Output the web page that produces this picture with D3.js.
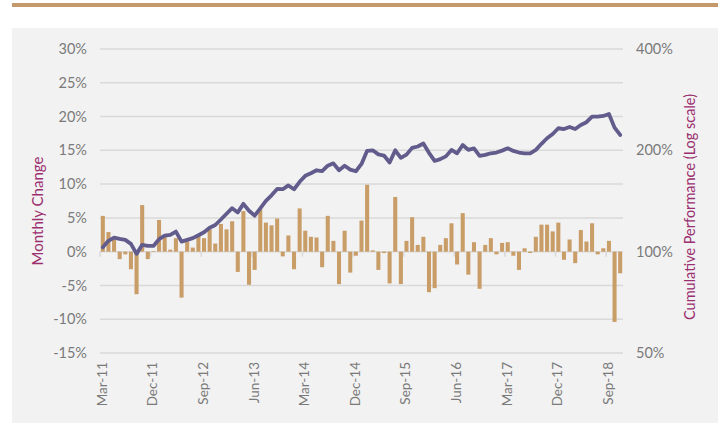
<!DOCTYPE html>
<html>
<head>
<meta charset="utf-8">
<script src="https://cdn.jsdelivr.net/npm/d3@7"></script>
<style>
  body { margin: 0; background: #ffffff; }
  text { font-family: Lato, "Open Sans", sans-serif; }
</style>
</head>
<body>
<div id="chart"></div>
<script>
// Monthly change (%) from Mar-11 to Nov-18
var monthlyChange = [
  5.3, 2.9, 1.8, -1.1, -0.4, -2.6, -6.3, 6.9, -1.1, 0.1,
  4.7, 2.2, 0.3, 2.0, -6.8, 1.5, 0.6, 2.5, 2.0, 3.3,
  1.2, 4.1, 3.3, 4.5, -3.0, 6.0, -4.9, -2.7, 6.3, 4.3,
  3.9, 4.9, -0.7, 2.4, -2.6, 6.4, 3.1, 2.2, 2.1, -2.3,
  5.3, 1.6, -4.8, 3.1, -3.1, -0.6, 4.6, 9.9, 0.2, -2.7,
  -0.2, -4.7, 8.1, -4.8, 1.6, 5.1, 1.0, 2.2, -6.0, -5.4,
  1.0, 2.0, 4.2, -1.9, 5.7, -3.4, 1.4, -5.5, 1.0, 2.0,
  -0.4, 1.3, 1.4, -0.6, -2.7, 0.5, -0.2, 2.2, 4.0, 4.0,
  3.0, 4.3, -1.2, 1.8, -1.7, 3.2, 1.5, 4.2, -0.4, 0.5,
  1.6, -10.4, -3.2
];

// Cumulative performance (%), log scale on the right axis
var cumulative = [
  103.1, 107.7, 110.1, 109.1, 108.4, 105.5, 98.5, 104.8, 104.0, 104.0,
  108.9, 111.6, 112.1, 114.7, 107.1, 108.4, 109.7, 111.9, 114.2, 117.8,
  120.0, 124.6, 129.6, 134.6, 130.8, 138.7, 132.3, 127.9, 134.5, 141.5,
  147.0, 153.5, 153.3, 157.3, 153.2, 161.3, 168.0, 171.0, 174.5, 173.5,
  180.0, 183.0, 174.5, 180.0, 175.3, 173.3, 182.2, 199.4, 200.0, 194.5,
  193.0, 184.0, 200.0, 190.0, 194.2, 203.4, 205.3, 209.6, 196.6, 186.0,
  188.3, 191.9, 200.6, 196.0, 207.5, 200.6, 202.8, 192.5, 193.8, 196.0,
  197.0, 199.6, 202.8, 199.2, 197.0, 196.0, 196.0, 200.6, 209.1, 217.2,
  223.6, 232.6, 231.4, 234.7, 231.4, 237.9, 242.4, 251.8, 251.8, 253.0,
  256.5, 233.6, 222.2
];

var xTickLabels = ["Mar-11", "Dec-11", "Sep-12", "Jun-13", "Mar-14", "Dec-14",
                   "Sep-15", "Jun-16", "Mar-17", "Dec-17", "Sep-18"];
var leftTicks = [-15, -10, -5, 0, 5, 10, 15, 20, 25, 30];
var rightTicks = [50, 100, 200, 400];

// month categories
var fmt = d3.utcFormat("%b-%y");
var months = d3.utcMonth.range(new Date(Date.UTC(2011, 2, 1)), new Date(Date.UTC(2018, 11, 1))).map(fmt);

var svgWidth = 718, svgHeight = 423;
var plot = { left: 100, right: 623, top: 49, bottom: 353 };

var svg = d3.select("#chart").append("svg")
  .attr("width", svgWidth)
  .attr("height", svgHeight);

// top rule and panel
svg.append("rect").attr("x", 12).attr("y", 3).attr("width", 706).attr("height", 4).attr("fill", "#c49a6c");
svg.append("rect").attr("x", 12).attr("y", 28).attr("width", 706).attr("height", 395).attr("fill", "#f2f2f2");

var x = d3.scaleBand().domain(months).range([plot.left, plot.right]).paddingInner(0.28).paddingOuter(0.14);
var yL = d3.scaleLinear().domain([-15, 30]).range([plot.bottom, plot.top]);
var yR = d3.scaleLog().base(2).domain([50, 400]).range([plot.bottom, plot.top]);

// gridlines
svg.append("g").selectAll("line")
  .data(leftTicks)
  .enter().append("line")
  .attr("x1", plot.left).attr("x2", plot.right)
  .attr("y1", d => yL(d)).attr("y2", d => yL(d))
  .attr("stroke", "#d9d9d9").attr("stroke-width", 1.5);

// small tick marks under the zero line
var step = x.step();
svg.append("g").selectAll("line")
  .data(xTickLabels)
  .enter().append("line")
  .attr("x1", d => x(d) - step * 0.14).attr("x2", d => x(d) - step * 0.14)
  .attr("y1", yL(0)).attr("y2", yL(0) + 5)
  .attr("stroke", "#d9d9d9").attr("stroke-width", 1.5);

// bars
svg.append("g").selectAll("rect")
  .data(monthlyChange)
  .enter().append("rect")
  .attr("x", (d, i) => x(months[i]))
  .attr("width", x.bandwidth())
  .attr("y", d => yL(Math.max(0, d)))
  .attr("height", d => Math.abs(yL(d) - yL(0)))
  .attr("fill", "#c99d67");

// cumulative line
var line = d3.line()
  .x((d, i) => x(months[i]) + x.bandwidth() / 2)
  .y(d => yR(d));

svg.append("path")
  .datum(cumulative)
  .attr("d", line)
  .attr("fill", "none")
  .attr("stroke", "#615c8b")
  .attr("stroke-width", 3.8)
  .attr("stroke-linejoin", "round")
  .attr("stroke-linecap", "round");

// left axis labels
svg.append("g").selectAll("text")
  .data(leftTicks)
  .enter().append("text")
  .attr("x", 87).attr("y", d => yL(d))
  .attr("dy", "0.35em")
  .attr("text-anchor", "end")
  .attr("font-size", 14.5)
  .attr("fill", "#7a7a7a")
  .text(d => d + "%");

// right axis labels
svg.append("g").selectAll("text")
  .data(rightTicks)
  .enter().append("text")
  .attr("x", 636).attr("y", d => yR(d))
  .attr("dy", "0.35em")
  .attr("text-anchor", "start")
  .attr("font-size", 14.5)
  .attr("fill", "#7a7a7a")
  .text(d => d + "%");

// x labels
svg.append("g").selectAll("text")
  .data(xTickLabels)
  .enter().append("text")
  .attr("transform", d => `translate(${x(d) + x.bandwidth() / 2 + 4}, 362) rotate(-90)`)
  .attr("text-anchor", "end")
  .attr("font-size", 13.5)
  .attr("fill", "#7a7a7a")
  .text(d => d);

// axis titles
svg.append("text")
  .attr("transform", "translate(43, 211) rotate(-90)")
  .attr("text-anchor", "middle")
  .attr("font-size", 15)
  .attr("fill", "#9b2f6f")
  .text("Monthly Change");

svg.append("text")
  .attr("transform", "translate(695, 207) rotate(-90)")
  .attr("text-anchor", "middle")
  .attr("font-size", 14.5)
  .attr("fill", "#9b2f6f")
  .text("Cumulative Performance (Log scale)");
</script>
</body>
</html>
